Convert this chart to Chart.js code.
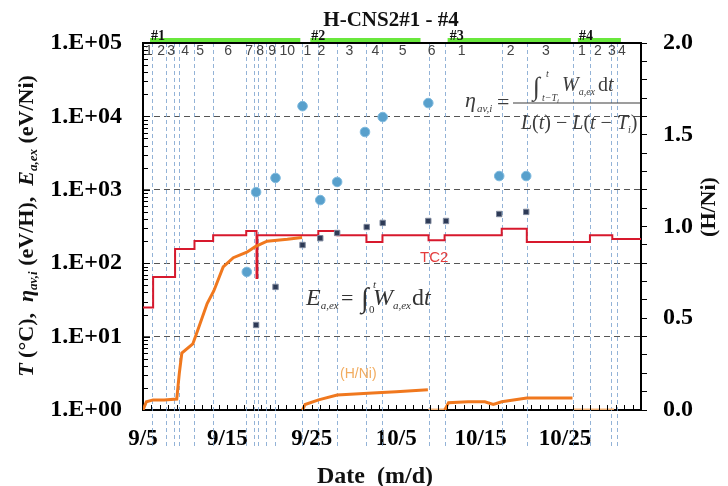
<!DOCTYPE html>
<html><head><meta charset="utf-8">
<script src="https://cdn.jsdelivr.net/npm/chart.js@4.4.1/dist/chart.umd.min.js"></script>
<style>html,body{margin:0;padding:0;background:#fff}#wrap{width:728px;height:486px;position:relative}</style>
</head><body><div id="wrap"><canvas id="c"></canvas></div>
<script>
// ---------- data (days counted from 9/5) ----------
const dateTickDays = [0, 10, 20, 30, 40, 50];
const dateTickLabels = ['9/5', '9/15', '9/25', '10/5', '10/15', '10/25'];
const runBoundaryDays = [1.07, 2.75, 3.73, 4.32, 6.1, 8.31, 12.23, 13.18, 13.65, 14.6, 15.67, 18.87, 20.77, 23.03, 26.47, 28.37, 33.83, 35.73, 42.5, 45.47, 50.93, 52.95, 55.43, 56.15];
const phaseLabels = ['1','2','3','4','5','6','7','8','9','10','1','2','3','4','5','6','1','2','3','1','2','3','4'];
const phaseLabelDays = [0.71, 2.14, 3.32, 4.99, 6.77, 10.09, 12.58, 13.89, 15.31, 17.09, 19.47, 21.13, 24.45, 27.54, 30.75, 34.19, 37.75, 43.57, 47.72, 51.99, 53.89, 55.55, 56.74];
const runLabels = ['#1', '#2', '#3', '#4'];
const runLabelDays = [1.78, 20.77, 37.16, 52.47];
const runBarStart = [0.83, 19.82, 36.09, 51.52];
const runBarEnd = [18.64, 32.88, 50.69, 56.62];

const tc2Days = [0, 1.2, 3.8, 6.1, 8.31, 12.23, 13.45, 13.55, 20.77, 23.03, 26.47, 28.37, 33.83, 35.73, 42.5, 45.47, 52.95, 55.6, 59];
const tc2Temp = [25, 65, 156, 200, 240, 275, 63, 240, 275, 240, 195, 240, 205, 240, 295, 195, 240, 213, 213];

const hniDays = [0, 0.4, 1.2, 2.5, 4.0, 4.3, 4.6, 5.9, 6.6, 7.6, 8.4, 9.5, 10.7, 12.3, 13.3, 14.7, 17.1, 18.85, 18.88,
                 18.9, 19.2, 20.8, 23.0, 27.2, 30.0, 33.75, 33.78,
                 33.8, 35.7, 35.72,
                 35.75, 36.2, 38.5, 40.5, 41.5, 42.5, 45.47, 48.0, 50.88, 50.9,
                 50.93, 55.8];
const hniValues = [0, 0.045, 0.055, 0.055, 0.06, 0.2, 0.31, 0.36, 0.45, 0.58, 0.65, 0.78, 0.83, 0.86, 0.89, 0.92, 0.93, 0.94, null,
                   0.0, 0.03, 0.055, 0.082, 0.093, 0.10, 0.11, null,
                   0, 0, null,
                   0.0, 0.04, 0.045, 0.045, 0.03, 0.045, 0.065, 0.065, 0.065, null,
                   0, 0];

const etaDays = [12.3, 13.4, 15.7, 18.9, 21.0, 23.0, 26.3, 28.4, 33.8, 42.2, 45.4];
const etaValues = [76, 930, 1450, 13800, 725, 1280, 6130, 9800, 15200, 1540, 1540];

const eaexDays = [13.4, 15.7, 18.9, 21.0, 23.0, 26.5, 28.4, 33.8, 35.9, 42.2, 45.4];
const eaexValues = [14.4, 47.5, 177, 219, 258, 311, 354, 376, 376, 468, 500];

const leftDecades = [1, 10, 100, 1000, 10000, 100000];

// ---------- helpers ----------
const SERIF = "'Liberation Serif','DejaVu Serif',serif";
const SANS = "'Liberation Sans','DejaVu Sans',sans-serif";
function runsWidth(ctx, runs) {
  let w = 0;
  for (const r of runs) { ctx.font = r.f; w += ctx.measureText(r.t).width + (r.dx || 0); }
  return w;
}
function drawRuns(ctx, x, y, runs) {
  let cx = x;
  for (const r of runs) {
    ctx.font = r.f; cx += (r.dx || 0);
    ctx.fillText(r.t, cx, y + (r.dy || 0));
    cx += ctx.measureText(r.t).width;
  }
  return cx;
}
function piece(ctx, t, f, x, y) { ctx.font = f; ctx.fillText(t, x, y); return x + ctx.measureText(t).width; }

const decor = {
  id: 'decor',
  beforeDatasetsDraw(chart) {
    const { ctx, scales: { x }, chartArea } = chart;
    ctx.save();
    ctx.strokeStyle = 'rgba(120,160,205,0.8)';
    ctx.lineWidth = 1;
    ctx.setLineDash([4, 3]);
    runBoundaryDays.forEach(d => {
      const px = Math.round(x.getPixelForValue(d)) + 0.5;
      ctx.beginPath(); ctx.moveTo(px, chartArea.top); ctx.lineTo(px, 446); ctx.stroke();
    });
    ctx.restore();
  },
  afterDraw(chart) {
    const { ctx, scales: { x, y }, chartArea: a } = chart;
    ctx.save();
    // inward ticks on the date axis
    ctx.strokeStyle = '#000'; ctx.lineWidth = 1;
    for (let d = 1; d < 59; d++) {
      const px = Math.round(x.getPixelForValue(d)) + 0.5;
      ctx.beginPath(); ctx.moveTo(px, a.bottom); ctx.lineTo(px, a.bottom - 5); ctx.stroke();
    }
    // inward minor ticks on log axis
    for (let e = 0; e < 5; e++) {
      for (let m = 1; m <= 9; m++) {
        const v = m * Math.pow(10, e);
        const py = Math.round(y.getPixelForValue(v)) + 0.5;
        ctx.beginPath(); ctx.moveTo(a.left, py); ctx.lineTo(a.left + (m === 1 ? 7 : 5), py); ctx.stroke();
      }
    }
    // top border
    ctx.lineWidth = 2;
    ctx.beginPath(); ctx.moveTo(a.left - 1, a.top); ctx.lineTo(a.right + 1, a.top); ctx.stroke();
    // run bars (green)
    ctx.lineWidth = 4;
    ctx.strokeStyle = 'rgb(105,232,60)';
    for (let i = 0; i < runBarStart.length; i++) {
      ctx.beginPath(); ctx.moveTo(x.getPixelForValue(runBarStart[i]), 40); ctx.lineTo(x.getPixelForValue(runBarEnd[i]), 40); ctx.stroke();
    }
    // run labels
    ctx.fillStyle = '#111'; ctx.textAlign = 'center'; ctx.textBaseline = 'middle';
    ctx.font = 'bold 14px ' + SERIF;
    runLabels.forEach((t, i) => ctx.fillText(t, x.getPixelForValue(runLabelDays[i]), 36));
    // phase labels
    ctx.fillStyle = '#444'; ctx.font = '14px ' + SANS;
    phaseLabels.forEach((t, i) => ctx.fillText(t, x.getPixelForValue(phaseLabelDays[i]), 51));
    // title
    ctx.fillStyle = '#111'; ctx.font = 'bold 21px ' + SERIF;
    ctx.fillText('H-CNS2#1 - #4', 391, 21);
    // x title
    ctx.font = 'bold 24px ' + SERIF;
    ctx.fillText('Date  (m/d)', 375, 477);
    // right title
    ctx.save(); ctx.translate(709, 207); ctx.rotate(-Math.PI / 2);
    ctx.font = 'bold 22px ' + SERIF; ctx.fillText('(H/Ni)', 0, 0);
    ctx.restore();
    // left title
    ctx.save(); ctx.translate(25, 226); ctx.rotate(-Math.PI / 2);
    ctx.textAlign = 'left'; ctx.textBaseline = 'alphabetic';
    const B = 'bold 22px ' + SERIF, BI = 'italic bold 22px ' + SERIF, SUB = 'italic bold 13px ' + SERIF;
    const lt = [
      { t: 'T', f: BI }, { t: ' (°C),  ', f: B }, { t: 'η', f: BI }, { t: 'av,i', f: SUB, dy: 4 },
      { t: ' (eV/H),  ', f: B }, { t: 'E', f: BI }, { t: 'a,ex', f: SUB, dy: 4 }, { t: ' (eV/Ni)', f: B }
    ];
    const lw = runsWidth(ctx, lt);
    drawRuns(ctx, -lw / 2, 8, lt);
    ctx.restore();

    // in-plot texts
    ctx.textAlign = 'left'; ctx.textBaseline = 'alphabetic';
    ctx.fillStyle = 'rgb(228,60,60)'; ctx.font = '15px ' + SANS;
    ctx.fillText('TC2', 420, 262);
    ctx.fillStyle = 'rgb(242,172,95)'; ctx.font = '14px ' + SANS;
    ctx.fillText('(H/Ni)', 340, 378);

    // formula: eta
    ctx.fillStyle = '#3c3c3c';
    const I20 = 'italic 20px ' + SERIF, R20 = '20px ' + SERIF, I10 = 'italic 10px ' + SERIF;
    piece(ctx, 'η', 'italic 22px ' + SERIF, 465, 107);
    piece(ctx, 'av,i', 'italic 11px ' + SERIF, 477, 112);
    piece(ctx, '=', '22px ' + SERIF, 497, 109);
    ctx.strokeStyle = '#3c3c3c'; ctx.lineWidth = 1.2;
    ctx.beginPath(); ctx.moveTo(513, 103); ctx.lineTo(640, 103); ctx.stroke();
    piece(ctx, '∫', '26px ' + SERIF, 533, 95);
    piece(ctx, 't', I10, 546, 77);
    let px = piece(ctx, 't−T', I10, 542, 101);
    piece(ctx, 'i', 'italic 7px ' + SERIF, px, 103);
    px = piece(ctx, 'W', I20, 562, 91);
    piece(ctx, 'a,ex', I10, px, 95);
    px = piece(ctx, 'd', R20, 598, 91);
    piece(ctx, 't', I20, px, 91);
    px = piece(ctx, 'L', I20, 521, 129);
    px = piece(ctx, '(', R20, px, 129);
    px = piece(ctx, 't', I20, px, 129);
    px = piece(ctx, ') − ', R20, px, 129);
    px = piece(ctx, 'L', I20, px, 129);
    px = piece(ctx, '(', R20, px, 129);
    px = piece(ctx, 't', I20, px, 129);
    px = piece(ctx, ' − ', R20, px, 129);
    px = piece(ctx, 'T', I20, px, 129);
    px = piece(ctx, 'i', I10, px, 133);
    piece(ctx, ')', R20, px, 129);

    // formula: E_a,ex
    ctx.fillStyle = '#333';
    const I24 = 'italic 24px ' + SERIF, R24 = '24px ' + SERIF, I11 = 'italic 11px ' + SERIF;
    px = piece(ctx, 'E', I24, 306, 305);
    piece(ctx, 'a,ex', I11, px, 309);
    piece(ctx, '=', '22px ' + SERIF, 341, 305);
    piece(ctx, '∫', '28px ' + SERIF, 361, 307);
    piece(ctx, 't', I11, 373, 288);
    piece(ctx, '0', '11px ' + SERIF, 369, 313);
    px = piece(ctx, 'W', I24, 373, 305);
    piece(ctx, 'a,ex', I11, px, 309);
    px = piece(ctx, 'd', R24, 412, 305);
    piece(ctx, 't', I24, px, 305);
    ctx.restore();
  }
};

const ctx = document.getElementById('c').getContext('2d');
new Chart(ctx, {
  type: 'scatter',
  data: {
    datasets: [
      {
        type: 'scatter', label: 'eta', yAxisID: 'y', order: 0,
        data: etaDays.map((d, i) => ({ x: d, y: etaValues[i] })),
        pointStyle: 'circle', pointRadius: 4.8, backgroundColor: 'rgb(88,160,204)', borderColor: 'rgb(125,185,222)', borderWidth: 1
      },
      {
        type: 'scatter', label: 'Eaex', yAxisID: 'y', order: 0,
        data: eaexDays.map((d, i) => ({ x: d, y: eaexValues[i] })),
        pointStyle: 'rect', pointRadius: 3.8, backgroundColor: 'rgb(45,58,86)', borderColor: 'rgb(125,135,155)', borderWidth: 1
      },
      {
        type: 'line', label: 'H/Ni', yAxisID: 'y2', order: 1,
        data: hniDays.map((d, i) => ({ x: d, y: hniValues[i] })),
        borderColor: 'rgb(240,120,30)', borderWidth: 3, pointRadius: 0, spanGaps: false, tension: 0,
        segment: { borderColor: c => (c.p0.parsed.y === 0 && c.p1.parsed.y === 0) ? 'rgba(248,178,115,0.95)' : undefined }
      },
      {
        type: 'line', label: 'TC2', yAxisID: 'y', order: 2,
        data: tc2Days.map((d, i) => ({ x: d, y: tc2Temp[i] })),
        stepped: 'before', borderColor: 'rgb(215,25,45)', borderWidth: 2, pointRadius: 0
      }
    ]
  },
  options: {
    responsive: true, maintainAspectRatio: false, animation: false,
    layout: { padding: { top: 43, left: 0, right: 0, bottom: 0 } },
    plugins: { legend: { display: false }, tooltip: { enabled: false } },
    scales: {
      x: {
        type: 'linear', position: 'bottom', min: 0, max: 59,
        afterFit(s) { s.height = 76; },
        grid: { display: false, drawTicks: false },
        border: { display: true, color: '#000', width: 2 },
        ticks: {
          stepSize: 1, autoSkip: false, maxRotation: 0, padding: 15, color: '#000',
          font: { family: SERIF, size: 23, weight: 'bold' },
          callback: v => { const i = dateTickDays.indexOf(v); return i >= 0 ? dateTickLabels[i] : ''; }
        }
      },
      y: {
        type: 'logarithmic', position: 'left', min: 1, max: 100000,
        afterFit(s) { s.width = 143; },
        grid: {
          drawTicks: false,
          color: '#555',
          lineWidth: c => { const v = c.tick && c.tick.value; return (v > 1 && v < 100000 && leftDecades.includes(v)) ? 1 : 0; }
        },
        border: { display: true, color: '#000', width: 2, dash: [6, 4] },
        ticks: {
          autoSkip: false, padding: 21, color: '#000',
          font: { family: SERIF, size: 24, weight: 'bold' },
          callback: v => { const e = Math.log10(v); return Math.abs(e - Math.round(e)) < 1e-9 ? '1.E+0' + Math.round(e) : ''; }
        }
      },
      y2: {
        type: 'linear', position: 'right', min: 0, max: 2,
        afterFit(s) { s.width = 87; },
        grid: { drawOnChartArea: false, drawTicks: true, tickLength: 6, color: '#000', lineWidth: 1 },
        border: { display: true, color: '#000', width: 2 },
        ticks: {
          stepSize: 0.1, autoSkip: false, padding: 16, color: '#000',
          font: { family: SERIF, size: 24, weight: 'bold' },
          callback: v => (Math.abs(v * 2 - Math.round(v * 2)) < 1e-6) ? v.toFixed(1) : ''
        }
      }
    }
  },
  plugins: [decor]
});
</script>
</body></html>
